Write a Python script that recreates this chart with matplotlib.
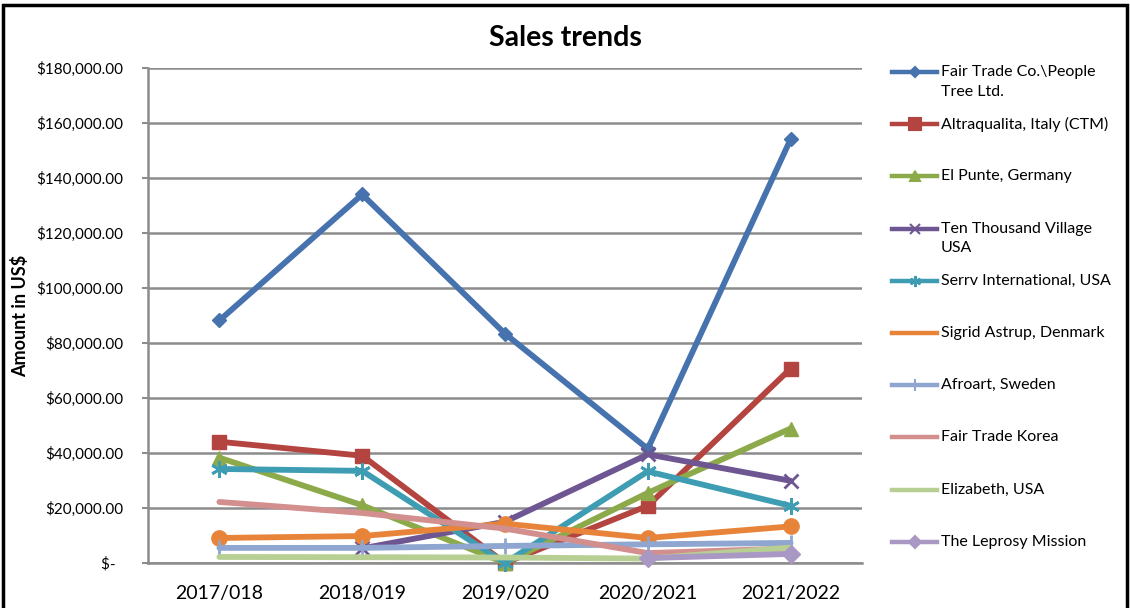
import numpy as np
import matplotlib
matplotlib.use("Agg")
import matplotlib.pyplot as plt
from matplotlib.lines import Line2D
from matplotlib.patches import Rectangle
from matplotlib.ticker import FuncFormatter

plt.rcParams['font.family'] = ['Lato', 'DejaVu Sans']

years = ["2017/018", "2018/019", "2019/020", "2020/2021", "2021/2022"]

fair_trade_co = [88200, 134000, 83400, 41500, 154100]
altraqualita = [44100, 39000, 0, 20800, 70700]
el_punte = [38300, 21000, 0, 25500, 48900]
ten_thousand = [np.nan, 5300, 15000, 39500, 29900]
serrv = [34200, 33500, 0, 33300, 20800]
sigrid = [9100, 9800, 14300, 9100, 13300]
afroart = [5500, 5500, 6200, 6800, 7300]
ft_korea = [22200, 18200, 12500, 3600, 5300]
elizabeth = [2200, 2100, 2000, 1600, 5600]
leprosy = [np.nan, np.nan, np.nan, 1800, 3300]

labels = ["Fair Trade Co.\\People\nTree Ltd.", "Altraqualita, Italy (CTM)", "El Punte, Germany",
          "Ten Thousand Village\nUSA", "Serrv International, USA", "Sigrid Astrup, Denmark",
          "Afroart, Sweden", "Fair Trade Korea", "Elizabeth, USA", "The Leprosy Mission"]

series = [fair_trade_co, altraqualita, el_punte, ten_thousand, serrv, sigrid,
          afroart, ft_korea, elizabeth, leprosy]

colors = ['#4672AE', '#B4443F', '#8DAA4A', '#6E5693', '#3E9DB3', '#E8843A',
          '#8EA6D0', '#D38F8E', '#B8CF93', '#A997C4']
markers = ['D', 's', '^', 'x', (6, 2, 0), 'o', '|', None, None, 'D']
msizes = [7, 10, 10, 10, 12, 11, 12, 0, 0, 9]
leg_markers = ['D', 's', '^', 'x', (6, 2, 0), None, '|', None, None, 'D']
leg_ms = [5, 8, 7, 7, 8, 0, 8, 0, 0, 6]

fig = plt.figure(figsize=(11.30, 6.08), dpi=100)
ax = fig.add_axes([148/1130, 1-563/608, (862-148)/1130, (563-68)/608])

x = np.arange(len(years))
for vals, c, m, ms in zip(series, colors, markers, msizes):
    ax.plot(x, vals, color=c, lw=4.2, marker=m, markersize=ms,
            markeredgewidth=2.0 if m in ('x', (6, 2, 0), '|') else 1,
            markeredgecolor=c, markerfacecolor=c, solid_capstyle='round',
            solid_joinstyle='round', clip_on=False, zorder=3)

ax.set_xlim(-0.5, len(years) - 0.5)
ax.set_ylim(0, 180000)
ax.set_yticks(np.arange(0, 180001, 20000))
ax.yaxis.set_major_formatter(FuncFormatter(lambda v, p: "$-  " if v == 0 else f"${v:,.2f}"))
ax.set_xticks(x)
ax.set_xticklabels(years, fontsize=14)
ax.tick_params(axis='x', length=0, pad=16)
ax.tick_params(axis='y', length=4, width=1.5, color='#8c8c8c', labelsize=11, pad=14)
ax.grid(axis='y', color='#8c8c8c', lw=1.8, zorder=0)
ax.set_axisbelow(True)
for s in ['top', 'right']:
    ax.spines[s].set_visible(False)
for s in ['left', 'bottom']:
    ax.spines[s].set_color('#8c8c8c')
    ax.spines[s].set_linewidth(1.8)

fig.text(0.5, 1-38/608, "Sales trends", ha='center', va='center', fontsize=20.5, fontweight='bold')
fig.text(20/1130, 1-316/608, "Amount in US$", rotation=90, ha='center', va='center',
         fontsize=13, fontweight='bold')

# Legend drawn manually to keep uniform spacing
for i, (lab, c, m, ms) in enumerate(zip(labels, colors, leg_markers, leg_ms)):
    yy = 1 - (72 + i * 52.2) / 608
    fig.add_artist(Line2D([892/1130, 937/1130], [yy, yy], transform=fig.transFigure,
                          color=c, lw=3.2))
    if m is not None:
        fig.add_artist(Line2D([914.5/1130], [yy], transform=fig.transFigure, color=c,
                              marker=m, markersize=ms, markeredgecolor=c,
                              markeredgewidth=1.5, linestyle='none'))
    fig.text(941/1130, yy + 7/608, lab, ha='left', va='top', fontsize=11.5,
             linespacing=1.5)

fig.add_artist(Rectangle((3/1130, -0.05), 1124/1130, 1.05 - 5/608, transform=fig.transFigure,
                         fill=False, edgecolor='black', lw=2.5))

fig.savefig("out.png", dpi=100)
